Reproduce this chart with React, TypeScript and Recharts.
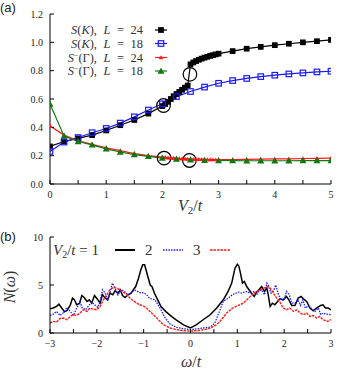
import React from 'react';
import { LineChart, Line, XAxis, YAxis, Legend, ReferenceDot } from 'recharts';

const serif = '"Liberation Serif", "Times New Roman", serif';

// panel (a): structure factors vs V2/t
const v2L24 = [0, 0.25, 0.5, 0.75, 1, 1.25, 1.5, 1.75, 2, 2.05, 2.1, 2.15, 2.2, 2.25, 2.3, 2.35, 2.4, 2.45, 2.5, 2.55, 2.6, 2.65, 2.7, 2.75, 2.8, 2.85, 2.9, 2.95, 3, 3.25, 3.5, 3.75, 4, 4.25, 4.5, 4.75, 5];
const sK24 = [0.265, 0.3, 0.322, 0.345, 0.378, 0.415, 0.452, 0.497, 0.55, 0.565, 0.58, 0.6, 0.62, 0.635, 0.65, 0.665, 0.68, 0.695, 0.845, 0.858, 0.868, 0.877, 0.885, 0.892, 0.898, 0.904, 0.91, 0.915, 0.92, 0.938, 0.955, 0.968, 0.98, 0.99, 1.0, 1.008, 1.017];
const sG24 = [0.41, 0.345, 0.305, 0.28, 0.255, 0.235, 0.215, 0.2, 0.19, 0.188, 0.186, 0.185, 0.183, 0.182, 0.18, 0.179, 0.178, 0.177, 0.176, 0.175, 0.175, 0.174, 0.174, 0.173, 0.173, 0.173, 0.172, 0.172, 0.172, 0.173, 0.174, 0.176, 0.177, 0.178, 0.18, 0.181, 0.183];
const v2L18 = [0, 0.25, 0.5, 0.75, 1, 1.25, 1.5, 1.75, 2, 2.25, 2.5, 2.75, 3, 3.25, 3.5, 3.75, 4, 4.25, 4.5, 4.75, 5];
const sK18 = [0.23, 0.296, 0.328, 0.362, 0.392, 0.43, 0.474, 0.522, 0.566, 0.617, 0.653, 0.684, 0.711, 0.73, 0.745, 0.758, 0.768, 0.777, 0.784, 0.791, 0.796];
const sG18 = [0.565, 0.338, 0.3, 0.276, 0.248, 0.226, 0.208, 0.195, 0.183, 0.176, 0.171, 0.168, 0.166, 0.165, 0.164, 0.164, 0.164, 0.164, 0.165, 0.165, 0.165];
const marked = [
  { x: 2.02, y: 0.554 },
  { x: 2.49, y: 0.774 },
  { x: 2.03, y: 0.183 },
  { x: 2.48, y: 0.166 },
];
const topXTicks = [0, 0.5, 1, 1.5, 2, 2.5, 3, 3.5, 4, 4.5, 5];
const topYTicks = [0, 0.2, 0.4, 0.6, 0.8, 1.0, 1.2];

// panel (b): density of states N(omega), [omega/t, N]
const dosV1: [number, number][] = [
  [-3, 2.53], [-2.93, 2.6], [-2.86, 2.77], [-2.81, 3.0], [-2.75, 2.6], [-2.69, 2.2], [-2.64, 2.32], [-2.57, 2.87],
  [-2.52, 3.63], [-2.48, 3.46], [-2.43, 2.94], [-2.37, 3.11], [-2.32, 3.9], [-2.27, 3.7], [-2.21, 3.29], [-2.16, 3.46],
  [-2.11, 3.11], [-2.05, 3.9], [-2.0, 3.6], [-1.93, 3.11], [-1.88, 4.0], [-1.82, 3.63], [-1.77, 3.46], [-1.72, 4.15],
  [-1.66, 3.98], [-1.61, 4.4], [-1.55, 4.15], [-1.5, 4.5], [-1.45, 3.9], [-1.4, 3.7], [-1.33, 3.98], [-1.27, 4.15],
  [-1.22, 4.5], [-1.17, 4.84], [-1.11, 5.7], [-1.06, 6.6], [-1.02, 7.1], [-0.98, 7.1], [-0.94, 6.4], [-0.91, 5.86],
  [-0.86, 5.0], [-0.82, 4.83], [-0.77, 4.14], [-0.7, 3.45], [-0.63, 2.76], [-0.52, 2.2], [-0.4, 1.7], [-0.3, 1.35],
  [-0.15, 0.85], [0, 0.52], [0.13, 0.87], [0.27, 1.38], [0.42, 1.9], [0.56, 2.6], [0.7, 3.46], [0.8, 4.3],
  [0.88, 5.2], [0.95, 6.75], [1.0, 7.16], [1.03, 7.0], [1.06, 6.4], [1.11, 5.2], [1.15, 5.36], [1.2, 4.84],
  [1.25, 4.5], [1.3, 4.15], [1.36, 3.8], [1.41, 4.26], [1.46, 4.5], [1.52, 4.84], [1.58, 4.33], [1.63, 4.67],
  [1.66, 3.98], [1.7, 2.77], [1.75, 3.1], [1.8, 2.94], [1.86, 3.29], [1.91, 3.56], [1.98, 3.46], [2.05, 3.8],
  [2.1, 3.46], [2.16, 2.87], [2.23, 2.87], [2.3, 3.63], [2.36, 3.8], [2.41, 3.56], [2.48, 3.29], [2.55, 2.6],
  [2.62, 2.32], [2.69, 2.6], [2.78, 2.87], [2.83, 2.94], [2.88, 2.6], [2.94, 2.6], [3.0, 2.42],
];
const dosV2: [number, number][] = [
  [-3, 1.83], [-2.93, 1.97], [-2.86, 2.25], [-2.79, 1.83], [-2.72, 2.08], [-2.64, 2.66], [-2.57, 2.25], [-2.5, 1.83],
  [-2.43, 2.6], [-2.36, 3.22], [-2.31, 2.6], [-2.24, 2.42], [-2.17, 2.87], [-2.11, 3.22], [-2.05, 2.94], [-1.98, 2.66],
  [-1.93, 3.29], [-1.88, 4.5], [-1.82, 4.15], [-1.77, 3.36], [-1.72, 4.15], [-1.67, 5.2], [-1.61, 4.67], [-1.55, 3.98],
  [-1.48, 4.5], [-1.41, 4.33], [-1.34, 3.98], [-1.27, 4.15], [-1.2, 4.5], [-1.13, 4.33], [-1.06, 4.15], [-1.0, 4.2],
  [-0.94, 4.0], [-0.87, 3.6], [-0.76, 3.46], [-0.65, 2.6], [-0.54, 1.56], [-0.44, 0.95], [-0.3, 0.59], [-0.15, 0.45],
  [0, 0.35], [0.13, 0.42], [0.27, 0.52], [0.42, 0.62], [0.52, 1.04], [0.59, 1.9], [0.7, 3.3], [0.8, 3.6],
  [0.9, 4.0], [1.02, 4.26], [1.09, 4.15], [1.2, 4.33], [1.27, 4.15], [1.34, 4.33], [1.41, 3.98], [1.46, 4.33],
  [1.52, 4.5], [1.58, 3.98], [1.63, 5.2], [1.66, 5.0], [1.72, 4.15], [1.77, 4.33], [1.82, 5.0], [1.88, 3.98],
  [1.93, 3.46], [2.0, 3.46], [2.05, 4.33], [2.11, 3.98], [2.16, 3.11], [2.23, 3.11], [2.29, 3.46], [2.35, 2.87],
  [2.4, 3.46], [2.45, 2.6], [2.5, 2.77], [2.55, 2.77], [2.6, 2.42], [2.66, 2.25], [2.73, 2.6], [2.78, 1.9],
  [2.83, 2.08], [2.9, 1.97], [3.0, 1.9],
];
const dosV3: [number, number][] = [
  [-3, 1.04], [-2.93, 1.21], [-2.86, 1.14], [-2.79, 1.49], [-2.72, 1.56], [-2.64, 1.38], [-2.57, 1.73], [-2.5, 1.9],
  [-2.43, 1.83], [-2.36, 2.08], [-2.29, 2.42], [-2.21, 2.25], [-2.15, 2.6], [-2.08, 2.49], [-2.0, 2.42], [-1.93, 2.77],
  [-1.86, 3.46], [-1.79, 3.98], [-1.72, 4.5], [-1.65, 4.74], [-1.58, 4.67], [-1.5, 4.5], [-1.43, 4.26], [-1.36, 3.98],
  [-1.29, 3.63], [-1.22, 3.36], [-1.15, 3.11], [-1.08, 2.94], [-1.0, 2.8], [-0.94, 2.6], [-0.83, 2.08], [-0.72, 1.56],
  [-0.58, 0.87], [-0.44, 0.52], [-0.3, 0.35], [-0.15, 0.24], [0, 0.2], [0.15, 0.24], [0.3, 0.35], [0.42, 0.52],
  [0.56, 0.87], [0.66, 1.38], [0.77, 2.08], [0.9, 2.6], [1.02, 2.87], [1.13, 3.11], [1.24, 3.63], [1.34, 4.15],
  [1.45, 4.39], [1.56, 4.67], [1.65, 4.84], [1.7, 4.67], [1.77, 4.15], [1.84, 3.63], [1.91, 3.22], [1.98, 2.6],
  [2.05, 2.42], [2.12, 2.6], [2.2, 2.25], [2.27, 2.42], [2.34, 2.08], [2.41, 1.9], [2.48, 2.08], [2.55, 1.73],
  [2.62, 1.83], [2.69, 1.56], [2.76, 1.73], [2.83, 1.38], [2.93, 1.21], [3.0, 1.4],
];
const botXTicks = [-3, -2.5, -2, -1.5, -1, -0.5, 0, 0.5, 1, 1.5, 2, 2.5, 3];
const botYTicks = [0, 5, 10];

const rows = (xs: number[], ys: number[]) => xs.map((x, i) => ({ x, y: ys[i] }));
const pairs = (pts: [number, number][]) => pts.map(([x, y]) => ({ x, y }));

const square = (fill: string, stroke: string, s: number) => (p: any) =>
  p.cx == null ? <g key={p.index} /> : (
    <rect key={p.index} x={p.cx - s / 2} y={p.cy - s / 2} width={s} height={s} fill={fill} stroke={stroke} strokeWidth={1.2} />
  );
const triangle = (color: string, s: number) => (p: any) =>
  p.cx == null ? <g key={p.index} /> : (
    <polygon
      key={p.index}
      points={`${p.cx - s / 2},${p.cy + s / 2.6} ${p.cx + s / 2},${p.cy + s / 2.6} ${p.cx},${p.cy - s / 2}`}
      fill={color}
    />
  );

const tickStyle = { fill: '#222', fontSize: 10, fontFamily: serif };
const intOnly = (v: number) => (Number.isInteger(v) ? String(v) : '');
const minusFmt = (v: number) => (Number.isInteger(v) ? (v < 0 ? `\u2212${-v}` : String(v)) : '');

const K = '#000';
const BLUE = '#1a1aff';
const RED = '#ff1a1a';
const GREEN = '#117711';

const it = (s: string) => <tspan fontStyle="italic">{s}</tspan>;

function TopLegend() {
  const items = [
    { lab: <>{it('S')}({it('K')}), {it('L')} = 24</>, color: K, dot: square(K, K, 4.5) },
    { lab: <>{it('S')}({it('K')}), {it('L')} = 18</>, color: BLUE, dot: square('none', BLUE, 5.5) },
    { lab: <>{it('S')}<tspan dy={-4} fontSize={8}>{'\u2212'}</tspan><tspan dy={4}>({'\u0393'}), </tspan>{it('L')} = 24</>, color: RED, dot: triangle(RED, 4.5) },
    { lab: <>{it('S')}<tspan dy={-4} fontSize={8}>{'\u2212'}</tspan><tspan dy={4}>({'\u0393'}), </tspan>{it('L')} = 18</>, color: GREEN, dot: triangle(GREEN, 7) },
  ];
  const cys = [7, 20.5, 34.5, 48];
  return (
    <svg width={130} height={56}>
      {items.map((r, i) => (
        <g key={i}>
          <text x={93} y={cys[i] + 4.3} textAnchor="end" fontFamily={serif} fontSize={12.4} fill="#333"
            style={{ whiteSpace: 'pre', wordSpacing: 3.5 }}>
            {r.lab}
          </text>
          <line x1={105} x2={117} y1={cys[i]} y2={cys[i]} stroke={r.color} strokeWidth={1.2} />
          {r.dot({ cx: 111, cy: cys[i], index: 0 })}
        </g>
      ))}
    </svg>
  );
}

function BottomLegend() {
  const t = { fontFamily: serif, fontSize: 15, fill: '#333' };
  return (
    <svg width={200} height={18}>
      <text x={0} y={13} {...t}>
        {it('V')}<tspan dy={3} fontSize={10}>2</tspan><tspan dy={-3}>/</tspan>{it('t')} = 1
      </text>
      <line x1={62} x2={82} y1={8} y2={8} stroke={K} strokeWidth={2} />
      <text x={92} y={13} {...t}>2</text>
      <line x1={110} x2={130} y1={8} y2={8} stroke={BLUE} strokeWidth={1.5} strokeDasharray="1.5 1.2" />
      <text x={140} y={13} {...t}>3</text>
      <line x1={157} x2={177} y1={8} y2={8} stroke={RED} strokeWidth={1.5} strokeDasharray="2.5 1" />
    </svg>
  );
}

export default function App() {
  return (
    <div style={{ position: 'absolute', left: 0, top: 0, width: 353, height: 371, background: '#fff' }}>
      <LineChart width={353} height={215} margin={{ top: 14, right: 22, bottom: 15, left: 0 }}>
        <XAxis xAxisId="b" type="number" dataKey="x" domain={[0, 5]} allowDataOverflow ticks={topXTicks} interval={0}
          tickSize={-4} tickMargin={11} tickFormatter={intOnly} tick={tickStyle} stroke="#000" height={16} />
        <XAxis xAxisId="t" orientation="top" type="number" dataKey="x" domain={[0, 5]} allowDataOverflow ticks={topXTicks}
          interval={0} tickSize={-4} tick={false} stroke="#000" height={0} />
        <YAxis yAxisId="l" type="number" domain={[0, 1.2]} allowDataOverflow ticks={topYTicks} interval={0}
          tickSize={-4} tickMargin={11} tickFormatter={(v: number) => v.toFixed(1)} tick={tickStyle} stroke="#000" width={50} />
        <YAxis yAxisId="r" orientation="right" type="number" domain={[0, 1.2]} allowDataOverflow ticks={topYTicks}
          interval={0} tickSize={-4} tick={false} stroke="#000" width={0} />
        <Legend layout="vertical" align="center" verticalAlign="middle" content={() => <TopLegend />}
          wrapperStyle={{ left: 50, top: 23, width: 130, lineHeight: 0 }} />
        <Line xAxisId="b" yAxisId="l" data={rows(v2L24, sK24)} dataKey="y" stroke={K} strokeWidth={1.2}
          dot={square(K, K, 4.5)} isAnimationActive={false} />
        <Line xAxisId="b" yAxisId="l" data={rows(v2L18, sK18)} dataKey="y" stroke={BLUE} strokeWidth={1.2}
          dot={square('none', BLUE, 5.5)} isAnimationActive={false} />
        <Line xAxisId="b" yAxisId="l" data={rows(v2L24, sG24)} dataKey="y" stroke={RED} strokeWidth={1.2}
          dot={triangle(RED, 4.5)} isAnimationActive={false} />
        <Line xAxisId="b" yAxisId="l" data={rows(v2L18, sG18)} dataKey="y" stroke={GREEN} strokeWidth={1.2}
          dot={triangle(GREEN, 7)} isAnimationActive={false} />
        {marked.map((m, i) => (
          <ReferenceDot key={i} xAxisId="b" yAxisId="l" x={m.x} y={m.y} r={6.8} fill="none" stroke="#000" strokeWidth={1.2} />
        ))}
      </LineChart>

      <div style={{ position: 'absolute', left: 0, top: 222 }}>
        <LineChart width={353} height={149} margin={{ top: 15, right: 22, bottom: 22, left: 0 }}>
          <XAxis xAxisId="b" type="number" dataKey="x" domain={[-3, 3]} allowDataOverflow ticks={botXTicks} interval={0}
            tickSize={-4} tickMargin={11} tickFormatter={minusFmt} tick={tickStyle} stroke="#000" height={16} />
          <XAxis xAxisId="t" orientation="top" type="number" dataKey="x" domain={[-3, 3]} allowDataOverflow ticks={botXTicks}
            interval={0} tickSize={-4} tick={false} stroke="#000" height={0} />
          <YAxis yAxisId="l" type="number" domain={[0, 10]} allowDataOverflow ticks={botYTicks} interval={0}
            tickSize={-4} tickMargin={11} tick={tickStyle} stroke="#000" width={50} />
          <YAxis yAxisId="r" orientation="right" type="number" domain={[0, 10]} allowDataOverflow ticks={botYTicks}
            interval={0} tickSize={-4} tick={false} stroke="#000" width={0} />
          <Legend layout="horizontal" align="center" verticalAlign="middle" content={() => <BottomLegend />}
            wrapperStyle={{ left: 53, top: 20, width: 200, lineHeight: 0 }} />
          <Line xAxisId="b" yAxisId="l" data={pairs(dosV1)} dataKey="y" stroke={K} strokeWidth={1.5} dot={false}
            isAnimationActive={false} />
          <Line xAxisId="b" yAxisId="l" data={pairs(dosV2)} dataKey="y" stroke={BLUE} strokeWidth={1.3}
            strokeDasharray="1.5 1.2" dot={false} isAnimationActive={false} />
          <Line xAxisId="b" yAxisId="l" data={pairs(dosV3)} dataKey="y" stroke={RED} strokeWidth={1.4}
            strokeDasharray="2.5 1" dot={false} isAnimationActive={false} />
        </LineChart>
      </div>

      <svg style={{ position: 'absolute', left: 0, top: 0 }} width={353} height={371} pointerEvents="none">
        <text x={0} y={12} fontFamily='"Liberation Sans", Arial, sans-serif' fontSize={13} fill="#222">(a)</text>
        <text x={0} y={241} fontFamily='"Liberation Sans", Arial, sans-serif' fontSize={13} fill="#222">(b)</text>
        <text x={190} y={211} textAnchor="middle" fontFamily={serif} fontSize={16} fill="#333">
          {it('V')}<tspan dy={3} fontSize={11}>2</tspan><tspan dy={-3}>/</tspan>{it('t')}
        </text>
        <text x={191} y={367} textAnchor="middle" fontFamily={serif} fontSize={16} fill="#333">
          {it('\u03c9')}/{it('t')}
        </text>
        <text x={15} y={287} textAnchor="middle" transform="rotate(-90 15 287)" fontFamily={serif} fontSize={16} fill="#333">
          {it('N')}({it('\u03c9')})
        </text>
      </svg>
    </div>
  );
}
